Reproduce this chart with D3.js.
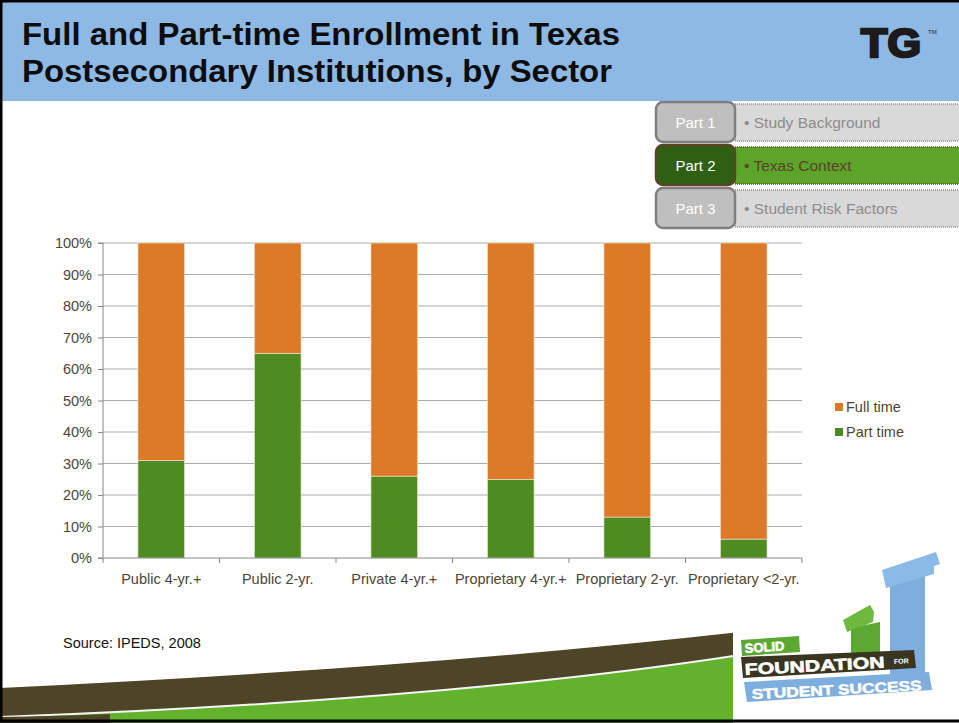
<!DOCTYPE html>
<html><head><meta charset="utf-8">
<script src="https://cdn.jsdelivr.net/npm/d3@7"></script>
<style>body{margin:0;background:#fff}svg{display:block}</style>
</head><body>
<svg id="c" width="959" height="723"></svg>
<script>
const categories = ["Public 4-yr.+","Public 2-yr.","Private 4-yr.+","Proprietary 4-yr.+","Proprietary 2-yr.","Proprietary <2-yr."];
const partTime = [31,65,26,25,13,6];
const fullTime = [69,35,74,75,87,94];
const seriesNames = ["Full time","Part time"];
const seriesColors = ["#DC7A28","#4E8B21"];
const yTicks = [0,10,20,30,40,50,60,70,80,90,100];
const navParts = ["Part 1","Part 2","Part 3"];
const navLabels = ["Study Background","Texas Context","Student Risk Factors"];

const svg = d3.select("#c");
const F = "Liberation Sans, Arial, sans-serif";

// header band
svg.append("rect").attr("x",0).attr("y",0).attr("width",959).attr("height",101).attr("fill","#8DB9E4");
svg.append("text").attr("x",22).attr("y",45).attr("font-family",F).attr("font-weight","bold").attr("font-size",31.5).attr("fill","#0d0d0d")
  .attr("textLength",598).attr("lengthAdjust","spacingAndGlyphs").text("Full and Part-time Enrollment in Texas");
svg.append("text").attr("x",22).attr("y",82).attr("font-family",F).attr("font-weight","bold").attr("font-size",31.5).attr("fill","#0d0d0d")
  .attr("textLength",590).attr("lengthAdjust","spacingAndGlyphs").text("Postsecondary Institutions, by Sector");
// TG logo
svg.append("text").attr("x",861).attr("y",57).attr("font-family",F).attr("font-weight","bold").attr("font-size",40).attr("fill","#1c1a1a")
  .attr("stroke","#1c1a1a").attr("stroke-width",2.5).attr("textLength",60).attr("lengthAdjust","spacingAndGlyphs").text("TG");
svg.append("text").attr("x",928).attr("y",34).attr("font-family",F).attr("font-size",6).attr("fill","#222").text("TM");

// nav boxes
const navY = [102,145,188];
navParts.forEach((p,i)=>{
  const active = i===1;
  const yy = navY[i];
  svg.append("rect").attr("x",735).attr("y",yy+2).attr("width",226).attr("height",37)
    .attr("fill",active?"#5DA42B":"#D9D9D9").attr("stroke",active?"#5A4A2A":"#8C8C8C").attr("stroke-width",1.5).attr("stroke-dasharray","1,1");
  svg.append("rect").attr("x",656).attr("y",yy).attr("width",79).attr("height",40).attr("rx",7)
    .attr("fill",active?"#2F5F12":"#BFBFBF").attr("stroke",active?"#5A4326":"#7F7F7F").attr("stroke-width",2.5);
  svg.append("text").attr("x",695.5).attr("y",yy+26).attr("text-anchor","middle").attr("font-family",F).attr("font-size",15).attr("fill","#fff").text(p);
  svg.append("text").attr("x",744).attr("y",yy+26).attr("font-family",F).attr("font-size",15.5).attr("fill",active?"#5A4326":"#8C8C8C").text("\u2022 "+navLabels[i]);
});

// chart
const x0=103,x1=802,yTop=243,yBot=558;
const x = d3.scaleBand().domain(categories).range([x0,x1]).paddingInner(0.6).paddingOuter(0.3);
const y = d3.scaleLinear().domain([0,100]).range([yBot,yTop]);

svg.append("g").selectAll("line").data(yTicks.filter(d=>d>0)).join("line")
  .attr("x1",x0).attr("x2",x1).attr("y1",d=>y(d)).attr("y2",d=>y(d)).attr("stroke","#ABABAB").attr("stroke-width",1);

const stack = d3.stack().keys(["part","full"])(categories.map((c,i)=>({cat:c,part:partTime[i],full:fullTime[i]})));
const colorMap = {part:seriesColors[1], full:seriesColors[0]};
stack.forEach(s=>{
  svg.append("g").selectAll("rect").data(s).join("rect")
    .attr("x",d=>x(d.data.cat)).attr("width",x.bandwidth())
    .attr("y",d=>y(d[1])).attr("height",d=>y(d[0])-y(d[1]))
    .attr("fill",colorMap[s.key]).attr("stroke","#F4E6D6").attr("stroke-width",0.6);
});

// y axis
const yAxis = d3.axisLeft(y).tickValues(yTicks).tickFormat(d=>d+"%").tickSize(5).tickPadding(6);
const ga = svg.append("g").attr("transform",`translate(${x0},0)`).call(yAxis);
ga.select(".domain").attr("stroke","#868686").attr("d",`M-5,${yTop}H0V${yBot}H-5`);
ga.selectAll(".tick line").attr("stroke","#868686");
ga.selectAll("text").attr("font-family",F).attr("font-size",14.5).attr("fill","#4D4633");

// x axis
const xAxis = d3.axisBottom(x).tickSize(0).tickPadding(16);
const gx = svg.append("g").attr("transform",`translate(0,${yBot})`).call(xAxis);
gx.select(".domain").attr("stroke","#868686").attr("d",`M${x0},0H${x1}`);
gx.selectAll("text").attr("font-family",F).attr("font-size",14.5).attr("fill","#4D4633");
const bounds = categories.map((c,i)=>x0+i*x.step());
bounds.push(x1);
gx.append("g").selectAll("line").data(bounds).join("line")
  .attr("x1",d=>d).attr("x2",d=>d).attr("y1",0).attr("y2",5).attr("stroke","#868686");

// legend
seriesNames.forEach((n,i)=>{
  svg.append("rect").attr("x",835).attr("y",403+i*25).attr("width",8).attr("height",8).attr("fill",seriesColors[i]);
  svg.append("text").attr("x",846).attr("y",412+i*25).attr("font-family",F).attr("font-size",14.5).attr("fill","#4D4633").text(n);
});

// source
svg.append("text").attr("x",63).attr("y",648).attr("font-family",F).attr("font-size",14.5).attr("fill","#111").text("Source: IPEDS, 2008");

// bottom decoration
svg.append("path").attr("d","M0,688 Q420,668 740,632 L740,723 L0,723 Z").attr("fill","#4E4428");
svg.append("path").attr("d","M0,717 Q450,700 740,655 L740,723 L0,723 Z").attr("fill","#63B22E");
svg.append("path").attr("d","M0,717 Q450,700 740,655").attr("stroke","#f4f4f4").attr("stroke-width",2).attr("fill","none");
svg.append("path").attr("d","M0,717 Q60,716 110,714 L110,723 L0,723 Z").attr("fill","#4E4428");

// logo pillars
const lg = svg.append("g");
lg.append("rect").attr("x",733).attr("y",628).attr("width",8).attr("height",95).attr("fill","#fff");
lg.append("path").attr("d","M890,578 L925,570 L925,682 L890,684 Z").attr("fill","#7DAEDD");
lg.append("path").attr("d","M882,570 L936,552 L940,564 L934,566 L934,574 L886,588 Z").attr("fill","#8CBAE6");
lg.append("path").attr("d","M851,628 L880,622 L880,662 L851,664 Z").attr("fill","#5BA832");
lg.append("path").attr("d","M843,620 L870,605 L874,612 L873,622 L847,632 Z").attr("fill","#6EB83E");
// banners
lg.append("path").attr("d","M741,640 L799,636 L800,652 L742,656 Z").attr("fill","#5BA832");
lg.append("text").attr("x",745).attr("y",653).attr("font-family",F).attr("font-weight","900").attr("font-size",13).attr("fill","#fff")
  .attr("stroke","#fff").attr("stroke-width",0.6).attr("transform","rotate(-4,745,653)").text("SOLID");
lg.append("path").attr("d","M741,657 L914,650 L916,668 L743,678 Z").attr("fill","#3A3520");
lg.append("text").attr("x",745).attr("y",675).attr("font-family",F).attr("font-weight","900").attr("font-size",16).attr("fill","#fff")
  .attr("stroke","#fff").attr("stroke-width",0.6).attr("textLength",140).attr("lengthAdjust","spacingAndGlyphs").attr("transform","rotate(-3,745,675)").text("FOUNDATION");
lg.append("text").attr("x",894).attr("y",664).attr("font-family",F).attr("font-weight","bold").attr("font-size",7).attr("fill","#fff").attr("transform","rotate(-3,894,664)").text("FOR");
lg.append("path").attr("d","M744,682 L929,672 L932,690 L747,702 Z").attr("fill","#7DAEDD");
lg.append("text").attr("x",752).attr("y",699).attr("font-family",F).attr("font-weight","900").attr("font-size",14).attr("fill","#fff")
  .attr("stroke","#fff").attr("stroke-width",0.5).attr("textLength",170).attr("lengthAdjust","spacingAndGlyphs").attr("transform","rotate(-3,752,699)").text("STUDENT SUCCESS");

// slide border
svg.append("rect").attr("x",1).attr("y",1).attr("width",960).attr("height",720).attr("fill","none").attr("stroke","#000").attr("stroke-width",3);
</script>
</body></html>
